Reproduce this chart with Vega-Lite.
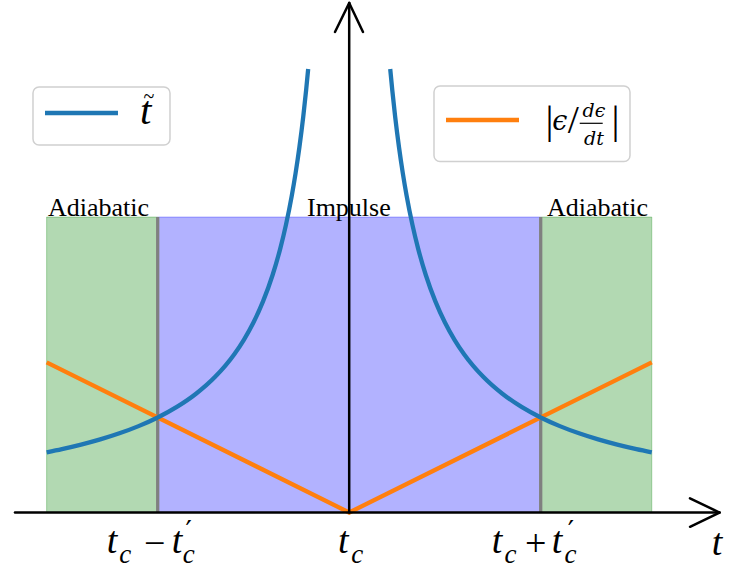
{
  "$schema": "https://vega.github.io/schema/vega-lite/v6.json",
  "width": 747,
  "height": 584,
  "autosize": "none",
  "padding": 0,
  "background": "white",
  "config": {"view": {"stroke": null}},
  "datasets": {
    "regions": [
      {"a": -1.58, "b": -1, "v0": 0, "v1": 3.11, "zone": "adiabatic"},
      {"a": -1, "b": 1, "v0": 0, "v1": 3.11, "zone": "impulse"},
      {"a": 1, "b": 1.58, "v0": 0, "v1": 3.11, "zone": "adiabatic"}
    ],
    "bounds": [
      {"t": -1, "v0": 0, "v1": 3.11},
      {"t": 1, "v0": 0, "v1": 3.11}
    ],
    "curve": [
      {"t": -1.58, "v": 0.6329, "branch": "L"}, {"t": -1.5, "v": 0.6667, "branch": "L"}, {"t": -1.4, "v": 0.7143, "branch": "L"},
      {"t": -1.3, "v": 0.7692, "branch": "L"}, {"t": -1.2, "v": 0.8333, "branch": "L"}, {"t": -1.1, "v": 0.9091, "branch": "L"},
      {"t": -1.0, "v": 1.0, "branch": "L"}, {"t": -0.9, "v": 1.1111, "branch": "L"}, {"t": -0.8, "v": 1.25, "branch": "L"},
      {"t": -0.7, "v": 1.4286, "branch": "L"}, {"t": -0.6, "v": 1.6667, "branch": "L"}, {"t": -0.55, "v": 1.8182, "branch": "L"},
      {"t": -0.5, "v": 2.0, "branch": "L"}, {"t": -0.45, "v": 2.2222, "branch": "L"}, {"t": -0.4, "v": 2.5, "branch": "L"},
      {"t": -0.36, "v": 2.7778, "branch": "L"}, {"t": -0.33, "v": 3.0303, "branch": "L"}, {"t": -0.3, "v": 3.3333, "branch": "L"},
      {"t": -0.28, "v": 3.5714, "branch": "L"}, {"t": -0.26, "v": 3.8462, "branch": "L"}, {"t": -0.24, "v": 4.1667, "branch": "L"},
      {"t": -0.225, "v": 4.4444, "branch": "L"}, {"t": -0.2142, "v": 4.6685, "branch": "L"},
      {"t": 0.2142, "v": 4.6685, "branch": "R"}, {"t": 0.225, "v": 4.4444, "branch": "R"}, {"t": 0.24, "v": 4.1667, "branch": "R"},
      {"t": 0.26, "v": 3.8462, "branch": "R"}, {"t": 0.28, "v": 3.5714, "branch": "R"}, {"t": 0.3, "v": 3.3333, "branch": "R"},
      {"t": 0.33, "v": 3.0303, "branch": "R"}, {"t": 0.36, "v": 2.7778, "branch": "R"}, {"t": 0.4, "v": 2.5, "branch": "R"},
      {"t": 0.45, "v": 2.2222, "branch": "R"}, {"t": 0.5, "v": 2.0, "branch": "R"}, {"t": 0.55, "v": 1.8182, "branch": "R"},
      {"t": 0.6, "v": 1.6667, "branch": "R"}, {"t": 0.7, "v": 1.4286, "branch": "R"}, {"t": 0.8, "v": 1.25, "branch": "R"},
      {"t": 0.9, "v": 1.1111, "branch": "R"}, {"t": 1.0, "v": 1.0, "branch": "R"}, {"t": 1.1, "v": 0.9091, "branch": "R"},
      {"t": 1.2, "v": 0.8333, "branch": "R"}, {"t": 1.3, "v": 0.7692, "branch": "R"}, {"t": 1.4, "v": 0.7143, "branch": "R"},
      {"t": 1.5, "v": 0.6667, "branch": "R"}, {"t": 1.58, "v": 0.6329, "branch": "R"}
    ],
    "orange": [
      {"t": -1.58, "v": 1.58}, {"t": 0, "v": 0}, {"t": 1.58, "v": 1.58}
    ],
    "axes": [
      {"x1": -1.7452, "y1": 0, "x2": 1.9337, "y2": 0},
      {"x1": 0, "y1": 0, "x2": 0, "y2": 5.3632},
      {"x1": 1.7796, "y1": 0.15, "x2": 1.9337, "y2": 0},
      {"x1": 1.7796, "y1": -0.15, "x2": 1.9337, "y2": 0},
      {"x1": -0.0742, "y1": 5.0579, "x2": 0, "y2": 5.3632},
      {"x1": 0.0721, "y1": 5.0579, "x2": 0, "y2": 5.3632}
    ],
    "zonetext": [
      {"t": -1.5728, "v": 3.12, "text": "Adiabatic"},
      {"t": -0.2204, "v": 3.12, "text": "Impulse"},
      {"t": 1.0329, "v": 3.12, "text": "Adiabatic"}
    ],
    "big": [
      {"t": -1.2663, "v": -0.4232, "text": "t"},
      {"t": -0.9269, "v": -0.4232, "text": "t"},
      {"t": -0.0585, "v": -0.4263, "text": "t"},
      {"t": 0.7441, "v": -0.4232, "text": "t"},
      {"t": 1.0574, "v": -0.4232, "text": "t"},
      {"t": 1.893, "v": -0.4474, "text": "t"}
    ],
    "sub": [
      {"t": -1.2012, "v": -0.5316, "text": "c"},
      {"t": -0.8686, "v": -0.5316, "text": "c"},
      {"t": 0.0103, "v": -0.5316, "text": "c"},
      {"t": 0.8108, "v": -0.5316, "text": "c"},
      {"t": 1.1241, "v": -0.5316, "text": "c"}
    ],
    "ops": [
      {"t": -1.0151, "v": -0.3421, "text": "−"},
      {"t": 0.9744, "v": -0.3421, "text": "+"}
    ],
    "primes": [
      {"t": -0.8382, "v": -0.2158, "text": "′"},
      {"t": 1.1582, "v": -0.2158, "text": "′"}
    ],
    "legbox": [
      {"a": -1.6512, "b": -0.9358, "v0": 3.8684, "v1": 4.4789},
      {"a": 0.4428, "b": 1.4663, "v0": 3.6947, "v1": 4.4895}
    ],
    "leglines": [
      {"a": -1.5885, "b": -1.2074, "v": 4.2053, "series": "t"},
      {"a": 0.5055, "b": 0.8867, "v": 4.1316, "series": "eps"}
    ],
    "legbig": [
      {"t": -1.0924, "v": 4.0895, "text": "t"}
    ],
    "legtilde": [
      {"t": -1.0455, "v": 4.3105, "text": "~"}
    ],
    "legbars": [
      {"t": 1.046, "v": 4.1158, "text": "|"},
      {"t": 1.1702, "v": 4.1158, "text": "/"},
      {"t": 1.3906, "v": 4.1158, "text": "|"}
    ],
    "legeps": [
      {"t": 1.0997, "v": 4.0263, "text": "ϵ"}
    ],
    "legfrac": [
      {"t": 1.2783, "v": 4.1663, "text": "dϵ"},
      {"t": 1.2783, "v": 3.8684, "text": "dt"}
    ],
    "fracbar": [
      {"a": 1.2037, "b": 1.3238, "v": 4.0968}
    ]
  },
  "layer": [
    {
      "data": {"name": "regions"},
      "mark": {"type": "rect", "fillOpacity": 0.3, "strokeOpacity": 0.3, "strokeWidth": 1},
      "encoding": {
        "x": {"field": "a", "type": "quantitative", "scale": {"domain": [-1.8235, 2.0773], "nice": false, "zero": false}, "axis": null},
        "x2": {"field": "b"},
        "y": {"field": "v0", "type": "quantitative", "scale": {"domain": [-0.7526, 5.3947], "nice": false, "zero": false}, "axis": null},
        "y2": {"field": "v1"},
        "fill": {"field": "zone", "type": "nominal", "scale": {"domain": ["adiabatic", "impulse"], "range": ["#008000", "#0000ff"]}, "legend": null},
        "stroke": {"field": "zone", "type": "nominal", "scale": {"domain": ["adiabatic", "impulse"], "range": ["#008000", "#0000ff"]}, "legend": null}
      }
    },
    {
      "data": {"name": "bounds"},
      "mark": {"type": "rule", "color": "#808080", "strokeWidth": 3.3},
      "encoding": {
        "x": {"field": "t", "type": "quantitative"},
        "y": {"field": "v0", "type": "quantitative"},
        "y2": {"field": "v1"}
      }
    },
    {
      "data": {"name": "orange"},
      "mark": {"type": "line", "color": "#ff7f0e", "strokeWidth": 4.3},
      "encoding": {
        "x": {"field": "t", "type": "quantitative"},
        "y": {"field": "v", "type": "quantitative"}
      }
    },
    {
      "data": {"name": "curve"},
      "mark": {"type": "line", "color": "#1f77b4", "strokeWidth": 4.3, "interpolate": "monotone"},
      "encoding": {
        "x": {"field": "t", "type": "quantitative"},
        "y": {"field": "v", "type": "quantitative"},
        "detail": {"field": "branch", "type": "nominal"}
      }
    },
    {
      "data": {"name": "axes"},
      "mark": {"type": "rule", "color": "black", "strokeWidth": 2.5, "strokeCap": "round"},
      "encoding": {
        "x": {"field": "x1", "type": "quantitative"},
        "x2": {"field": "x2"},
        "y": {"field": "y1", "type": "quantitative"},
        "y2": {"field": "y2"}
      }
    },
    {
      "data": {"name": "zonetext"},
      "mark": {"type": "text", "font": "Liberation Serif", "fontSize": 26, "align": "left", "baseline": "alphabetic", "color": "black"},
      "encoding": {
        "x": {"field": "t", "type": "quantitative"},
        "y": {"field": "v", "type": "quantitative"},
        "text": {"field": "text"}
      }
    },
    {
      "data": {"name": "big"},
      "mark": {"type": "text", "font": "Liberation Serif", "fontStyle": "italic", "fontSize": 38, "align": "left", "baseline": "alphabetic", "color": "black"},
      "encoding": {
        "x": {"field": "t", "type": "quantitative"},
        "y": {"field": "v", "type": "quantitative"},
        "text": {"field": "text"}
      }
    },
    {
      "data": {"name": "sub"},
      "mark": {"type": "text", "font": "Liberation Serif", "fontStyle": "italic", "fontSize": 27, "align": "left", "baseline": "alphabetic", "color": "black"},
      "encoding": {
        "x": {"field": "t", "type": "quantitative"},
        "y": {"field": "v", "type": "quantitative"},
        "text": {"field": "text"}
      }
    },
    {
      "data": {"name": "ops"},
      "mark": {"type": "text", "font": "Liberation Serif", "fontSize": 38, "align": "center", "baseline": "middle", "color": "black"},
      "encoding": {
        "x": {"field": "t", "type": "quantitative"},
        "y": {"field": "v", "type": "quantitative"},
        "text": {"field": "text"}
      }
    },
    {
      "data": {"name": "primes"},
      "mark": {"type": "text", "font": "DejaVu Serif", "fontSize": 28, "align": "center", "baseline": "middle", "color": "black"},
      "encoding": {
        "x": {"field": "t", "type": "quantitative"},
        "y": {"field": "v", "type": "quantitative"},
        "text": {"field": "text"}
      }
    },
    {
      "data": {"name": "legbox"},
      "mark": {"type": "rect", "fill": "white", "stroke": "#d0d0d0", "strokeWidth": 1.5, "cornerRadius": 6},
      "encoding": {
        "x": {"field": "a", "type": "quantitative"},
        "x2": {"field": "b"},
        "y": {"field": "v0", "type": "quantitative"},
        "y2": {"field": "v1"}
      }
    },
    {
      "data": {"name": "leglines"},
      "mark": {"type": "rule", "strokeWidth": 4.3},
      "encoding": {
        "x": {"field": "a", "type": "quantitative"},
        "x2": {"field": "b"},
        "y": {"field": "v", "type": "quantitative"},
        "color": {"field": "series", "type": "nominal", "scale": {"domain": ["t", "eps"], "range": ["#1f77b4", "#ff7f0e"]}, "legend": null}
      }
    },
    {
      "data": {"name": "legbig"},
      "mark": {"type": "text", "font": "Liberation Serif", "fontStyle": "italic", "fontSize": 41, "align": "left", "baseline": "alphabetic", "color": "black"},
      "encoding": {
        "x": {"field": "t", "type": "quantitative"},
        "y": {"field": "v", "type": "quantitative"},
        "text": {"field": "text"}
      }
    },
    {
      "data": {"name": "legtilde"},
      "mark": {"type": "text", "font": "Liberation Serif", "fontSize": 20, "align": "center", "baseline": "alphabetic", "color": "black"},
      "encoding": {
        "x": {"field": "t", "type": "quantitative"},
        "y": {"field": "v", "type": "quantitative"},
        "text": {"field": "text"}
      }
    },
    {
      "data": {"name": "legbars"},
      "mark": {"type": "text", "font": "Liberation Serif", "fontSize": 40, "align": "center", "baseline": "middle", "color": "black"},
      "encoding": {
        "x": {"field": "t", "type": "quantitative"},
        "y": {"field": "v", "type": "quantitative"},
        "text": {"field": "text"}
      }
    },
    {
      "data": {"name": "legeps"},
      "mark": {"type": "text", "font": "DejaVu Serif", "fontStyle": "italic", "fontSize": 27, "align": "center", "baseline": "alphabetic", "color": "black"},
      "encoding": {
        "x": {"field": "t", "type": "quantitative"},
        "y": {"field": "v", "type": "quantitative"},
        "text": {"field": "text"}
      }
    },
    {
      "data": {"name": "legfrac"},
      "mark": {"type": "text", "font": "DejaVu Serif", "fontStyle": "italic", "fontSize": 19, "align": "center", "baseline": "alphabetic", "color": "black"},
      "encoding": {
        "x": {"field": "t", "type": "quantitative"},
        "y": {"field": "v", "type": "quantitative"},
        "text": {"field": "text"}
      }
    },
    {
      "data": {"name": "fracbar"},
      "mark": {"type": "rule", "color": "black", "strokeWidth": 1.2},
      "encoding": {
        "x": {"field": "a", "type": "quantitative"},
        "x2": {"field": "b"},
        "y": {"field": "v", "type": "quantitative"}
      }
    }
  ]
}
